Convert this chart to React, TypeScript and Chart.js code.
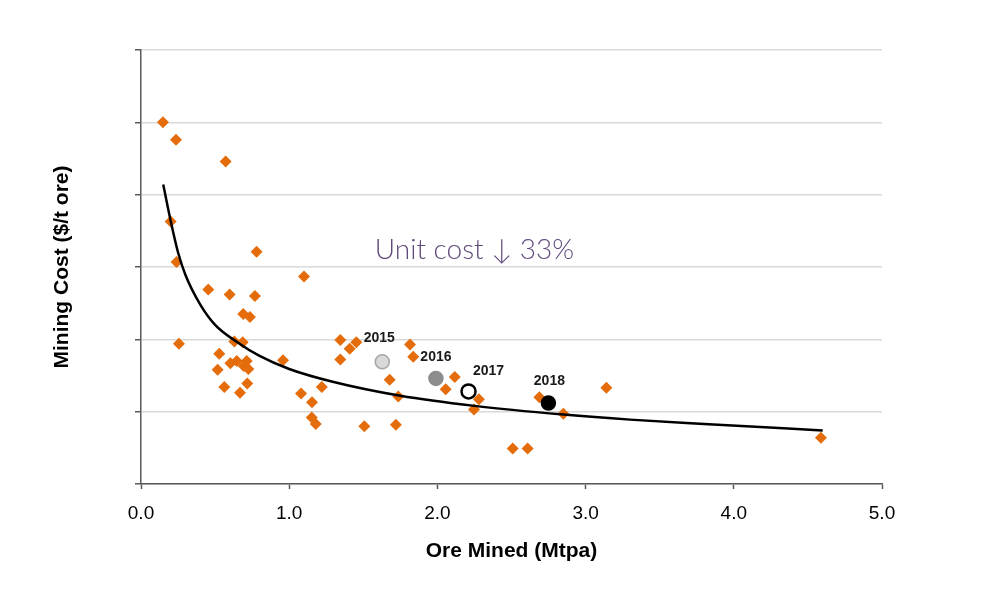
import { useEffect, useRef } from 'react';
import Chart from 'chart.js/auto';

// ore mined (Mtpa) vs mining cost, one entry per operation
const oreMined = [
  0.148, 0.236, 0.571, 0.2, 0.24, 0.78, 1.1, 0.454, 0.598, 0.769,
  0.69, 0.735, 0.256, 0.63, 0.686, 0.528, 0.603, 0.646, 0.713, 0.693,
  0.724, 0.517, 0.562, 0.668, 0.717, 0.958, 1.08, 1.22, 1.154, 1.152,
  1.179, 1.345, 1.453, 1.408, 1.345, 1.507, 1.72, 1.678, 1.736, 1.815,
  1.837, 2.117, 2.056, 2.28, 2.247, 2.688, 2.85, 2.508, 2.609, 3.14,
  4.588,
];
const miningCost = [
  50.0, 47.6, 44.6, 36.3, 30.7, 32.1, 28.7, 26.9, 26.2, 26.0,
  23.5, 23.1, 19.4, 19.7, 19.6, 18.0, 16.7, 17.0, 17.0, 16.3,
  15.9, 15.8, 13.4, 12.6, 13.9, 17.1, 12.5, 13.4, 11.3, 9.2,
  8.3, 19.9, 19.6, 18.7, 17.2, 8.0, 8.2, 14.4, 12.1, 19.3,
  17.6, 14.8, 13.1, 11.7, 10.3, 12.0, 9.7, 4.9, 4.9, 13.3,
  6.4,
];

// trend curve
const trendOre = [0.15, 0.2, 0.25, 0.3, 0.4, 0.5, 0.65, 0.8, 1.0, 1.3, 1.75, 2.25, 2.85, 3.3, 3.8, 4.6];
const trendCost = [41.4, 36.4, 32.0, 28.9, 24.8, 22.0, 19.6, 17.7, 15.9, 14.1, 12.2, 10.8, 9.6, 8.9, 8.3, 7.4];

// own operation by year
const years = ['2015', '2016', '2017', '2018'];
const yearOre = [1.628, 1.99, 2.21, 2.749];
const yearCost = [16.9, 14.6, 12.8, 11.2];
const yearFill = ['#d9d9d9', '#8c8c8c', '#ffffff', '#000000'];
const yearBorder = ['#a6a6a6', '#8c8c8c', '#000000', '#000000'];
const yearLabelOffset = [[-3, -24], [0, -21], [20, -20], [1, -22]];

const xTicks = [0, 1, 2, 3, 4, 5];
const noteText = 'Unit cost \u2193 33%';
const notePos = { x: 2.25, y: 32.4 };

const FONT = '"Liberation Sans", Arial, sans-serif';

const labelPlugin = {
  id: 'yearLabels',
  afterDatasetsDraw(chart) {
    const ctx = chart.ctx;
    ctx.save();
    ctx.font = `bold 14px ${FONT}`;
    ctx.fillStyle = '#1a1a1a';
    ctx.textAlign = 'center';
    ctx.textBaseline = 'middle';
    years.forEach((yr, i) => {
      const pt = chart.getDatasetMeta(i).data[0];
      ctx.fillText(yr, pt.x + yearLabelOffset[i][0], pt.y + yearLabelOffset[i][1]);
    });
    ctx.font = `300 28px Lato, "Noto Sans", sans-serif`;
    ctx.fillStyle = '#604a7b';
    ctx.fillText(noteText, chart.scales.x.getPixelForValue(notePos.x), chart.scales.y.getPixelForValue(notePos.y));
    ctx.restore();
  },
};

const App = () => {
  const chartRef = useRef(null);
  const chartInstanceRef = useRef(null);

  useEffect(() => {
    const ctx = chartRef.current.getContext('2d');
    if (chartInstanceRef.current) chartInstanceRef.current.destroy();

    const yearSets = years.map((yr, i) => ({
      label: yr,
      data: [{ x: yearOre[i], y: yearCost[i] }],
      pointStyle: 'circle',
      pointRadius: 7,
      pointBackgroundColor: yearFill[i],
      pointBorderColor: yearBorder[i],
      pointBorderWidth: i === 2 ? 2.5 : 1.5,
    }));

    chartInstanceRef.current = new Chart(ctx, {
      type: 'scatter',
      data: {
        datasets: [
          ...yearSets,
          {
            label: 'trend',
            data: trendOre.map((x, i) => ({ x, y: trendCost[i] })),
            showLine: true,
            borderColor: '#000000',
            borderWidth: 2.5,
            pointRadius: 0,
            cubicInterpolationMode: 'monotone',
          },
          {
            label: 'operations',
            data: oreMined.map((x, i) => ({ x, y: miningCost[i] })),
            pointStyle: 'rectRot',
            pointRadius: 6,
            pointBackgroundColor: '#e46c0a',
            pointBorderWidth: 0,
          },
        ],
      },
      options: {
        responsive: false,
        animation: false,
        layout: { padding: { top: 50, right: 116, left: 0, bottom: 0 } },
        plugins: { legend: { display: false }, tooltip: { enabled: false } },
        scales: {
          x: {
            type: 'linear',
            min: 0,
            max: 5,
            afterBuildTicks: (scale) => {
              scale.ticks = xTicks.map((v) => ({ value: v }));
            },
            afterFit: (scale) => {
              scale.height = 132;
            },
            ticks: {
              callback: (v) => Number(v).toFixed(1),
              color: '#000000',
              font: { family: FONT, size: 19 },
              padding: 13,
            },
            grid: { drawOnChartArea: false, drawTicks: true, tickLength: 5, tickColor: '#595959', tickWidth: 1.5 },
            border: { color: '#595959', width: 1.5 },
            title: {
              display: true,
              text: 'Ore Mined (Mtpa)',
              color: '#000000',
              font: { family: FONT, size: 21, weight: 'bold' },
              padding: { top: 0, bottom: 52 },
            },
          },
          y: {
            min: 0,
            max: 60,
            afterFit: (scale) => {
              scale.width = 141;
            },
            ticks: { stepSize: 10, display: false },
            grid: { color: '#d9d9d9', lineWidth: 1.5, drawTicks: true, tickLength: 6, tickColor: '#595959', tickWidth: 1.5 },
            border: { color: '#595959', width: 1.5 },
            title: {
              display: true,
              text: 'Mining Cost ($/t ore)',
              color: '#000000',
              font: { family: FONT, size: 21, weight: 'bold' },
              padding: { top: 50, bottom: 0 },
            },
          },
        },
      },
      plugins: [labelPlugin],
    });

    return () => {
      if (chartInstanceRef.current) {
        chartInstanceRef.current.destroy();
        chartInstanceRef.current = null;
      }
    };
  }, []);

  return (
    <div style={{ position: 'absolute', left: 0, top: 0, width: 998, height: 616, background: '#ffffff' }}>
      <canvas ref={chartRef} width={998} height={616} style={{ display: 'block' }}></canvas>
    </div>
  );
};

export default App;
